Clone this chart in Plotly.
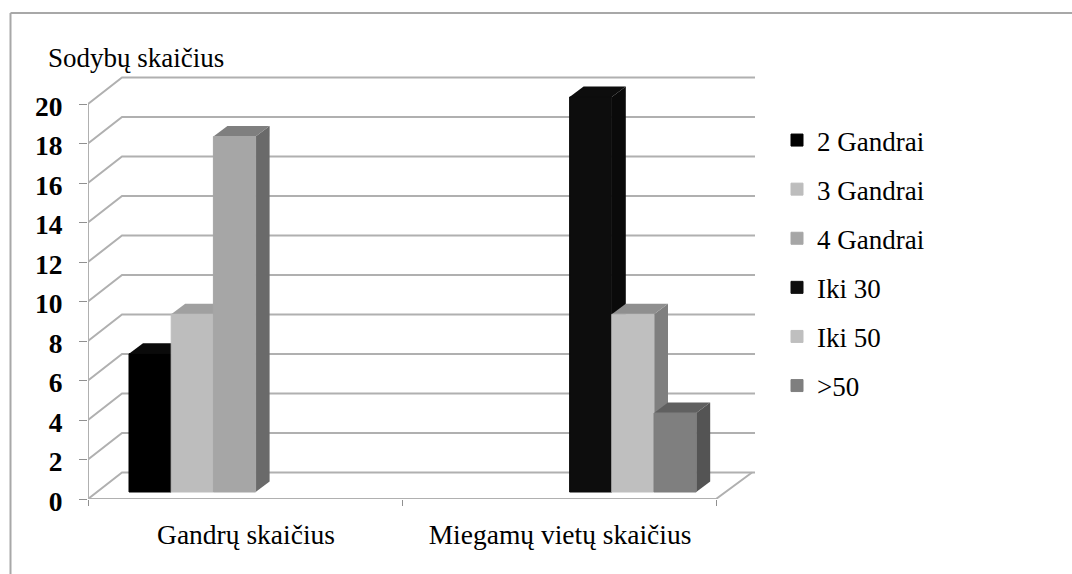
import plotly.graph_objects as go

categories = [0, 1]
category_labels = ['Gandrų skaičius', 'Miegamų vietų skaičius']
y_ticks = [0, 2, 4, 6, 8, 10, 12, 14, 16, 18, 20]

series_names = ['2 Gandrai', '3 Gandrai', '4 Gandrai', 'Iki 30', 'Iki 50', '>50']
gandrai_2 = [7, None]
gandrai_3 = [9, None]
gandrai_4 = [18, None]
iki_30 = [None, 20]
iki_50 = [None, 9]
virs_50 = [None, 4]
series_values = [gandrai_2, gandrai_3, gandrai_4, iki_30, iki_50, virs_50]

front_colors = ['#000000', '#bdbdbd', '#a6a6a6', '#0d0d0d', '#bfbfbf', '#7f7f7f']
top_colors = ['#0a0a0a', '#a0a0a0', '#7f7f7f', '#0d0d0d', '#8f8f8f', '#606060']
side_colors = ['#050505', '#8a8a8a', '#6a6a6a', '#0a0a0a', '#7f7f7f', '#545454']

W, H = 1072, 574
GRID = '#b0b0b0'
SERIF = 'Liberation Serif'

# axis scale: pixels per data unit
PX_X = 314
PX_Y = 19.75
X0, Y0 = 88, 499
X_END, Y_END = 755, 73
x_range = [-0.5, -0.5 + (X_END - X0) / PX_X]
y_range = [0, (Y0 - Y_END) / PX_Y]

# fake 3D depth, wall and bars
WALL_DX, WALL_DY = 34 / PX_X, 26.5 / PX_Y
BAR_SHIFT, BAR_BASE = 10.6 / PX_X, 7 / PX_Y
BAR_W = 42.2 / PX_X
BAR_DX, BAR_DY = 14 / PX_X, 10.5 / PX_Y

fig = go.Figure()


def line(xs, ys):
    fig.add_trace(go.Scatter(x=xs, y=ys, mode='lines', line=dict(color=GRID, width=2),
                             cliponaxis=False, showlegend=False, hoverinfo='skip'))


def face(xs, ys, color):
    fig.add_trace(go.Scatter(x=xs, y=ys, mode='lines', fill='toself', fillcolor=color,
                             line=dict(color=color, width=0), showlegend=False, hoverinfo='skip'))


# walls and floor
left = x_range[0]
for t in y_ticks:
    line([left, left + WALL_DX, x_range[1]], [t, t + WALL_DY, t + WALL_DY])
line([left, left], [y_ticks[0], y_ticks[-1]])
line([left, 1.5, 1.5 + WALL_DX + 2 / PX_X], [0, 0, WALL_DY])

# side and top of the bars go under the fronts
for i, values in enumerate(series_values):
    for c, v in zip(categories, values):
        if v is None:
            continue
        x1 = c + BAR_SHIFT + (i - 3) * BAR_W
        x2 = x1 + BAR_W
        top = v + BAR_BASE
        face([x2, x2 + BAR_DX, x2 + BAR_DX, x2, x2],
             [BAR_BASE, BAR_BASE + BAR_DY, top + BAR_DY, top, BAR_BASE], side_colors[i])
        face([x1, x1 + BAR_DX, x2 + BAR_DX, x2, x1],
             [top, top + BAR_DY, top + BAR_DY, top, top], top_colors[i])

# front of the bars, on the overlay axes
for i, values in enumerate(series_values):
    fig.add_trace(go.Bar(
        x=[c + BAR_SHIFT for c in categories], y=values, base=BAR_BASE,
        name=series_names[i], legendgroup=series_names[i],
        marker=dict(color=front_colors[i], line=dict(color=front_colors[i], width=1)),
        xaxis='x2', yaxis='y2',
    ))

x_domain = [X0 / W, X_END / W]
y_domain = [(H - Y0) / H, (H - Y_END) / H]

fig.update_layout(
    width=W, height=H,
    margin=dict(l=0, r=0, t=0, b=0),
    paper_bgcolor='white', plot_bgcolor='white',
    barmode='group', bargap=1 - 6 * BAR_W, bargroupgap=0,
    font=dict(family=SERIF, color='black'),
    xaxis=dict(
        domain=x_domain, range=x_range, showgrid=False, zeroline=False, showline=False,
        automargin=False,
        tickmode='array', tickvals=categories, ticktext=category_labels, ticks='',
        tickfont=dict(size=27.5, family=SERIF, color='black'), ticklabelstandoff=16,
        ticklabelshift=1,
        minor=dict(tickmode='array', tickvals=[-0.5, 0.5, 1.5], ticks='outside',
                   ticklen=6, tickwidth=1, tickcolor='#909090'),
    ),
    yaxis=dict(
        domain=y_domain, range=y_range, showgrid=False, zeroline=False, showline=False,
        automargin=False,
        tickmode='array', tickvals=y_ticks, ticks='outside', ticklen=8, tickwidth=1,
        tickcolor='#909090', ticklabelstandoff=11, ticklabelshift=2,
        tickfont=dict(size=27.5, family=SERIF, color='black', weight='bold'),
    ),
    xaxis2=dict(domain=x_domain, range=x_range, overlaying='x', visible=False),
    yaxis2=dict(domain=y_domain, range=y_range, overlaying='y', visible=False),
    legend=dict(
        x=777 / W, y=(H - 116) / H, xanchor='left', yanchor='top',
        traceorder='grouped', tracegroupgap=11,
        font=dict(size=27, family=SERIF, color='black'), bgcolor='rgba(0,0,0,0)',
    ),
    annotations=[dict(
        text='Sodybų skaičius', xref='paper', yref='paper', x=46 / W, y=(H - 58) / H,
        xanchor='left', yanchor='middle', showarrow=False,
        font=dict(size=27, family=SERIF, color='black'),
    )],
    shapes=[
        dict(type='line', xref='paper', yref='paper', x0=10.5 / W, x1=1, y0=(H - 13) / H, y1=(H - 13) / H,
             line=dict(color='#a8a8a8', width=2)),
        dict(type='line', xref='paper', yref='paper', x0=10.5 / W, x1=10.5 / W, y0=0, y1=(H - 13) / H,
             line=dict(color='#a8a8a8', width=2)),
    ],
)

fig.write_html("out.html", config={'displayModeBar': False},
               post_script="document.body.style.margin='0';")
